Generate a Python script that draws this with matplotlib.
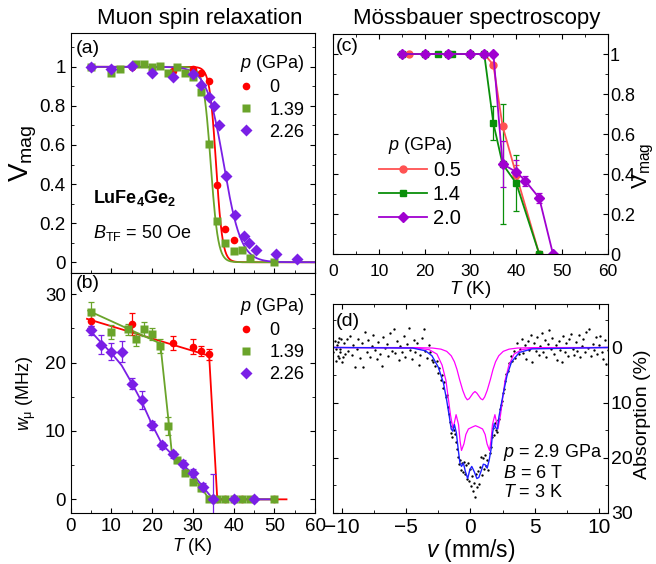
import numpy as np
import matplotlib
matplotlib.use("Agg")
import matplotlib.pyplot as plt
from matplotlib.ticker import MultipleLocator

plt.rcParams['font.family'] = ['Liberation Sans', 'DejaVu Sans']
plt.rcParams['mathtext.fontset'] = 'custom'
plt.rcParams['mathtext.rm'] = 'Liberation Sans'
plt.rcParams['mathtext.it'] = 'Liberation Sans:italic'
plt.rcParams['mathtext.bf'] = 'Liberation Sans:bold'
plt.rcParams['font.size'] = 13

# muSR colours
RED = '#ff0000'
GREEN = '#6aa42a'
PURPLE = '#7a1fe6'
# Mossbauer colours
M_RED = '#ff5252'
M_GREEN = '#0a8f0a'
M_PURPLE = '#a000d0'

# ---- (a) muSR magnetic volume fraction ----
p_musr = ['0', '1.39', '2.26']
Ta_0 = [5, 15, 25, 30, 32, 34, 36, 38, 40]
Va_0 = [1.0, 1.0, 0.98, 0.99, 0.97, 0.925, 0.395, 0.17, 0.115]
Ta_1 = [5, 10, 12, 16, 18, 20, 22, 24, 26, 28, 30, 32, 34, 36, 38, 40, 42, 44, 50]
Va_1 = [1.0, 0.97, 0.99, 1.015, 1.015, 1.0, 1.005, 0.97, 1.0, 0.97, 0.95, 0.87,
        0.605, 0.21, 0.10, 0.055, 0.063, 0.02, 0.0]
Ta_2 = [5, 10, 15, 20, 25, 30, 32, 34, 35.3, 36.3, 38.2, 40.3, 42.5, 43.9, 45.6, 50.5, 55.5]
Va_2 = [1.0, 0.99, 1.005, 0.97, 0.95, 0.963, 0.905, 0.845, 0.80, 0.70, 0.442, 0.242,
        0.136, 0.097, 0.063, 0.04, 0.016]
# fitted transition temperature and width (K)
Tc_fit = [35.7, 34.4, 37.6]
dT_fit = [0.8, 0.9, 2.1]

# ---- (b) muSR internal field width ----
Tb_0 = [5, 15, 25, 30, 32, 34, 36, 38, 40, 42, 45, 50]
wb_0 = [26.1, 25.7, 22.9, 22.3, 21.7, 21.2, 0, 0, 0, 0, 0, 0]
eb_0 = [0.8, 1.6, 1.0, 1.1, 0.8, 0.8, 0.3, 0.3, 0.3, 0.3, 0.3, 0.3]
Tb_1 = [5, 10, 14, 16, 18, 20, 22, 24, 26, 28, 30, 32, 34, 36, 38, 40, 42, 44, 50]
wb_1 = [27.4, 24.5, 24.9, 23.4, 24.9, 24.2, 22.4, 10.7, 5.7, 3.9, 2.6, 1.6,
        0, 0, 0, 0, 0, 0, 0]
eb_1 = [1.4, 1.0, 0.8, 1.0, 1.0, 0.9, 1.0, 1.3, 0.4, 0.4, 0.4, 0.4,
        0.3, 0.3, 0.3, 0.3, 0.3, 0.3, 0.3]
Tb_2 = [5, 7.5, 10, 12.5, 15, 17.5, 20, 22.5, 25, 27.5, 30, 32.5, 35, 40, 45]
wb_2 = [24.7, 22.6, 21.6, 21.6, 16.9, 14.5, 10.8, 7.9, 6.6, 5.2, 3.8, 1.75, 0, 0, 0]
eb_2 = [0.7, 1.4, 1.2, 1.5, 0.8, 1.3, 0.7, 0.5, 0.5, 0.5, 0.6, 0.6, 3.7, 0.3, 0.3]
# guide-to-the-eye lines
Tl_0 = [4, 34, 36, 53]
wl_0 = [26.4, 21.0, 0, 0]
Tl_1 = [4.3, 22.0, 24.0, 24.8, 26, 28, 30, 32, 34, 50]
wl_1 = [27.6, 22.8, 11.6, 7.0, 5.9, 4.5, 3.2, 1.8, 0.0, 0.0]
Tl_2 = [4.3, 7.5, 10, 12.5, 15, 17.5, 20, 22.5, 25, 27.5, 30, 32.5, 35, 50]
wl_2 = [25.0, 22.9, 21.4, 19.6, 17.0, 14.2, 10.9, 8.0, 6.5, 5.1, 3.7, 1.8, 0.0, 0.0]

# ---- (c) Mossbauer magnetic volume fraction ----
p_moss = ['0.5', '1.4', '2.0']
Tc_05 = [16.5, 20, 25, 30, 33, 35, 37, 40, 45]
Vc_05 = [1, 1, 1, 1, 1, 0.945, 0.64, 0.395, 0]
ec_05 = [0, 0, 0, 0, 0, 0, 0, 0.05, 0]
Tc_14 = [15, 20, 23, 25, 26, 30, 33, 35, 37, 40, 45]
Vc_14 = [1, 1, 1, 1, 1, 1, 1, 0.653, 0.45, 0.353, 0]
ec_14 = [0, 0, 0, 0, 0, 0, 0, 0.085, 0.30, 0.14, 0]
Tc_20 = [15, 20, 25, 30, 33, 35, 37, 40, 42, 45, 48]
Vc_20 = [1, 1, 1, 1, 1, 1, 0.45, 0.41, 0.365, 0.28, 0]
ec_20 = [0, 0, 0, 0, 0, 0, 0.117, 0.06, 0.025, 0.025, 0]

# ---- (d) Mossbauer spectrum, p = 2.9 GPa, B = 6 T, T = 3 K ----
spec_v = [-10.68, -10.55, -10.5, -10.45, -10.38, -10.33, -10.3, -10.26, -10.22, -10.18,
          -10.12, -10.05, -10.0, -9.93, -9.88, -9.75, -9.62, -9.5, -9.37, -9.24,
          -9.11, -8.98, -8.85, -8.72, -8.59, -8.46, -8.33, -8.2, -8.07, -7.94,
          -7.81, -7.68, -7.55, -7.42, -7.29, -7.16, -7.03, -6.9, -6.77, -6.64,
          -6.51, -6.38, -6.25, -6.12, -5.99, -5.86, -5.73, -5.6, -5.47, -5.34,
          -5.21, -5.08, -4.95, -4.82, -4.69, -4.56, -4.43, -4.3, -4.17, -4.04,
          -3.91, -3.78, -3.65, -3.52, -3.39, -3.26, -3.13, -3.0, -2.88, -2.76,
          -2.64, -2.52, -2.42, -2.32, -2.22, -2.12, -2.03, -1.94, -1.86, -1.78,
          -1.7, -1.62, -1.55, -1.47, -1.4, -1.32, -1.24, -1.16, -1.08, -1.0,
          -0.92, -0.84, -0.76, -0.68, -0.6, -0.52, -0.44, -0.36, -0.28, -0.2,
          -0.12, -0.04, 0.04, 0.12, 0.2, 0.28, 0.36, 0.44, 0.52, 0.6,
          0.68, 0.76, 0.84, 0.92, 1.0, 1.08, 1.16, 1.24, 1.32, 1.4,
          1.48, 1.56, 1.64, 1.72, 1.8, 1.88, 1.96, 2.04, 2.12, 2.2,
          2.28, 2.36, 2.44, 2.52, 2.6, 2.7, 2.8, 2.9, 3.02, 3.14,
          3.26, 3.38, 3.5, 3.62, 3.74, 3.86, 3.98, 4.1, 4.22, 4.34,
          4.46, 4.58, 4.7, 4.82, 4.94, 5.06, 5.18, 5.3, 5.42, 5.54,
          5.66, 5.78, 5.9, 6.02, 6.14, 6.26, 6.38, 6.5, 6.62, 6.74,
          6.86, 6.98, 7.1, 7.22, 7.34, 7.46, 7.58, 7.7, 7.82, 7.94,
          8.06, 8.18, 8.3, 8.42, 8.54, 8.66, 8.78, 8.9, 9.02, 9.14,
          9.26, 9.38, 9.5, 9.62, 9.74, 9.86, 9.98, 10.1, 10.22, 10.34,
          10.46, 10.58, 10.68]
spec_abs = [0.8, -1.2, 0.2, 2.4, -0.5, -1.0, 1.6, 1.9, -1.8, 0.9,
            0.3, -1.6, 2.7, 1.8, -0.9, 1.1, -1.5, 0.6, -2.1, 1.4,
            -0.4, 3.6, 0.2, -1.6, 1.9, -0.8, 3.5, -2.9, 0.9, -1.3,
            1.7, -0.2, -2.2, 0.5, 2.1, -1.0, 1.2, 3.4, -1.9, 0.1,
            -0.7, 1.5, -2.6, 0.7, -3.4, 1.0, -1.1, 2.3, -0.3, 0.9,
            -2.0, 1.8, -0.6, -3.6, 0.4, 2.0, -1.4, 0.8, -0.9, 3.2,
            1.3, -1.7, -3.3, 0.6, 1.9, -0.4, 0.9, 2.2, 2.6, 3.4,
            2.4, 4.6, 3.8, 5.9, 5.0, 7.4, 6.3, 9.0, 8.6, 10.8,
            12.0, 13.6, 15.6, 14.2, 16.3, 14.9, 15.8, 17.2, 18.4, 19.9,
            21.2, 20.4, 22.3, 21.0, 22.6, 20.8, 22.9, 21.4, 23.9, 20.9,
            24.3, 22.1, 25.1, 23.4, 26.0, 24.6, 27.2, 23.0, 25.4, 22.4,
            24.8, 21.7, 19.8, 23.1, 20.1, 22.0, 19.5, 21.6, 20.4, 22.3,
            19.2, 18.1, 16.2, 14.6, 15.9, 13.8, 14.9, 15.3, 13.2, 12.9,
            11.1, 10.5, 9.8, 8.3, 7.6, 6.1, 4.9, 4.2, 2.8, 1.6,
            2.5, 0.7, 1.9, -0.8, 1.2, 0.3, -1.6, 1.0, -0.5, 2.0,
            -1.2, 0.4, -2.2, 2.6, -0.9, 0.7, -1.9, 1.4, -0.2, -2.7,
            0.9, -1.3, 1.7, -0.6, -3.1, 0.2, -1.8, 1.1, -0.4, 2.2,
            -1.1, 0.5, 2.6, -2.0, 0.8, -0.9, 1.6, -1.5, -2.4, 0.3,
            1.3, -1.0, 0.6, -2.3, 1.8, -0.3, -1.6, 0.9, -2.8, 0.1,
            -3.4, 1.5, -0.7, 0.4, -1.9, 1.1, -0.5, -2.1, 0.8, 2.1,
            -1.3, 3.0, 0.5]
# total fit
fit_v = [-10.7, -4.5, -3.5, -3.0, -2.5, -2.1, -1.85, -1.65, -1.5, -1.38, -1.25, -1.1,
         -0.95, -0.82, -0.7, -0.55, -0.4, -0.22, -0.05, 0.1, 0.3, 0.5, 0.65, 0.85,
         1.0, 1.15, 1.3, 1.45, 1.6, 1.72, 1.85, 1.97, 2.1, 2.22, 2.38, 2.6, 2.85,
         3.2, 3.8, 4.8, 10.7]
fit_abs = [0, 0.1, 0.6, 1.5, 3.6, 6.5, 9.6, 12.5, 14.8, 15.2, 14.0, 15.5,
           18.6, 21.0, 21.6, 21.0, 22.5, 23.8, 22.2, 21.6, 22.6, 23.8, 23.6, 22.3,
           21.2, 21.3, 21.9, 20.5, 18.5, 15.5, 13.8, 14.6, 14.8, 12.5, 10.5, 7.8, 5.0,
           2.6, 0.9, 0.25, 0]
# magnetic sub-spectrum
sub1_v = [-10.7, -4.11, -3.21, -2.61, -2.21, -1.91, -1.71, -1.56, -1.46, -1.35, -1.24,
          -1.12, -0.93, -0.81, -0.70, -0.51, -0.36, -0.16, 0.14, 0.39, 0.64, 0.94,
          1.14, 1.29, 1.48, 1.59, 1.71, 1.90, 2.02, 2.13, 2.24, 2.34, 2.49, 2.69,
          2.99, 3.39, 3.99, 4.89, 10.7]
sub1_abs = [0, 0.1, 0.4, 1.2, 3.2, 6.0, 9.5, 12.2, 13.5, 14.8, 13.5,
            12.2, 14.0, 17.0, 18.7, 17.5, 15.8, 14.8, 14.45, 14.2, 14.45, 14.8,
            15.8, 17.5, 18.7, 17.0, 14.0, 12.2, 13.5, 14.8, 13.5, 12.2, 9.5, 6.0,
            3.2, 1.2, 0.4, 0.1, 0]
# broad sub-spectrum
sub2_v = [-10.7, -4.3, -2.95, -2.3, -1.85, -1.5, -1.25, -1.05, -0.85, -0.6, -0.4,
          -0.25, -0.1, 0.05, 0.2, 0.35, 0.5, 0.65, 0.8, 0.95, 1.1, 1.3,
          1.55, 1.75, 1.95, 2.2, 2.55, 3.0, 3.65, 5.0, 10.7]
sub2_abs = [0, 0.02, 0.1, 0.3, 0.7, 1.5, 2.6, 4.0, 5.8, 7.8, 9.0,
            9.5, 9.3, 8.8, 8.3, 8.0, 8.3, 8.8, 9.3, 9.5, 9.0, 7.8,
            5.8, 4.0, 2.6, 1.5, 0.7, 0.3, 0.1, 0.02, 0]

fig = plt.figure(figsize=(6.56, 5.64), dpi=100)
ax_a = fig.add_axes([0.1078, 0.5160, 0.3724, 0.4255])
ax_b = fig.add_axes([0.1078, 0.0904, 0.3724, 0.4255])
ax_c = fig.add_axes([0.5076, 0.5496, 0.4192, 0.3901])
ax_d = fig.add_axes([0.5076, 0.0910, 0.4192, 0.3700])

fig.text(0.305, 0.968, 'Muon spin relaxation', ha='center', va='center', fontsize=16)
fig.text(0.727, 0.968, 'Mössbauer spectroscopy', ha='center', va='center', fontsize=16)

musr_cols = [RED, GREEN, PURPLE]
musr_mk = ['o', 's', 'D']
musr_ms = [5.5, 5.2, 6.3]
leg_kw = dict(title=r'$p$ (GPa)', loc='upper right', frameon=False, handletextpad=0.7,
              borderaxespad=0.2, labelspacing=0.28, handlelength=1.2, fontsize=13,
              title_fontsize=13, alignment='right')

# panel (a)
T_line = np.linspace(4.3, 60, 400)
for Tc, dT, col in zip(Tc_fit, dT_fit, musr_cols):
    ax_a.plot(T_line, 1.0 / (1.0 + np.exp((T_line - Tc) / dT)), color=col, lw=1.3)
for T, V, col, mk, ms, lab in zip([Ta_0, Ta_1, Ta_2], [Va_0, Va_1, Va_2],
                                  musr_cols, musr_mk, musr_ms, p_musr):
    ax_a.plot(T, V, mk, color=col, ms=ms, mec='none', label=lab)
ax_a.set_xlim(0, 60)
ax_a.set_ylim(-0.055, 1.173)
ax_a.xaxis.set_major_locator(MultipleLocator(10))
ax_a.xaxis.set_minor_locator(MultipleLocator(5))
ax_a.set_yticks([0, 0.2, 0.4, 0.6, 0.8, 1.0], ['0', '0.2', '0.4', '0.6', '0.8', '1'])
ax_a.yaxis.set_minor_locator(MultipleLocator(0.1))
ax_a.tick_params(which='both', direction='in', right=True, top=False, labelbottom=False,
                 labelsize=13.5)
ax_a.set_ylabel(r'$\mathrm{V_{mag}}$', fontsize=20)
ax_a.yaxis.set_label_coords(-0.13, 0.5)
ax_a.text(0.02, 0.97, '(a)', transform=ax_a.transAxes, ha='left', va='top', fontsize=14)
ax_a.text(0.09, 0.29, r'$\mathbf{LuFe_4Ge_2}$', transform=ax_a.transAxes, fontsize=13)
ax_a.text(0.09, 0.145, r'$B_\mathrm{TF}$ = 50 Oe', transform=ax_a.transAxes, fontsize=13)
ax_a.legend(bbox_to_anchor=(1.0, 0.96), **leg_kw)

# panel (b)
for T, w, col in zip([Tl_0, Tl_1, Tl_2], [wl_0, wl_1, wl_2], musr_cols):
    ax_b.plot(T, w, color=col, lw=1.3)
for T, w, e, col, mk, ms, lab in zip([Tb_0, Tb_1, Tb_2], [wb_0, wb_1, wb_2],
                                     [eb_0, eb_1, eb_2], musr_cols, musr_mk,
                                     musr_ms, p_musr):
    ax_b.errorbar(T, w, yerr=e, fmt=mk, color=col, ms=ms, mec='none', capsize=2.2,
                  elinewidth=0.9, capthick=0.9, label=lab)
ax_b.set_xlim(0, 60)
ax_b.set_ylim(-2, 33.1)
ax_b.xaxis.set_major_locator(MultipleLocator(10))
ax_b.xaxis.set_minor_locator(MultipleLocator(5))
ax_b.yaxis.set_major_locator(MultipleLocator(10))
ax_b.yaxis.set_minor_locator(MultipleLocator(5))
ax_b.tick_params(which='both', direction='in', right=True, top=False, labelsize=13.5)
ax_b.set_xlabel(r'$T$ (K)', fontsize=13, labelpad=1)
ax_b.set_ylabel(r'$w_\mathrm{\mu}$ (MHz)', fontsize=13)
ax_b.yaxis.set_label_coords(-0.135, 0.5)
ax_b.text(0.02, 0.99, '(b)', transform=ax_b.transAxes, ha='left', va='top', fontsize=14)
hb, lb = ax_b.get_legend_handles_labels()
ax_b.legend([h[0] for h in hb], lb, bbox_to_anchor=(1.0, 0.95), **leg_kw)

# panel (c)
moss_cols = [M_RED, M_GREEN, M_PURPLE]
moss_mk = ['o', 's', 'D']
moss_ms = [5, 4.6, 5.6]
for T, V, e, col, mk, ms, lab in zip([Tc_05, Tc_14, Tc_20], [Vc_05, Vc_14, Vc_20],
                                     [ec_05, ec_14, ec_20], moss_cols, moss_mk,
                                     moss_ms, p_moss):
    ax_c.errorbar(T, V, yerr=e, fmt='-' + mk, color=col, ms=ms, mec=col, lw=1.3,
                  capsize=2.2, elinewidth=0.9, capthick=0.9, label=lab)
ax_c.set_xlim(0, 60)
ax_c.set_ylim(0, 1.1)
ax_c.xaxis.set_major_locator(MultipleLocator(10))
ax_c.xaxis.set_minor_locator(MultipleLocator(5))
ax_c.set_yticks([0, 0.2, 0.4, 0.6, 0.8, 1.0], ['0', '0.2', '0.4', '0.6', '0.8', '1'])
ax_c.yaxis.set_minor_locator(MultipleLocator(0.1))
ax_c.tick_params(which='both', direction='in', left=True, right=True, top=True,
                 labelleft=False, labelright=True)
ax_c.tick_params(axis='x', labelsize=12.5, pad=7)
ax_c.tick_params(axis='y', labelsize=13, pad=1.5)
ax_c.yaxis.set_label_position('right')
ax_c.set_ylabel(r'$\mathrm{V_{mag}}$', fontsize=16)
ax_c.yaxis.set_label_coords(1.085, 0.40)
ax_c.set_xlabel(r'$T$ (K)', fontsize=13.5, labelpad=0)
ax_c.text(0.01, 0.98, '(c)', transform=ax_c.transAxes, ha='left', va='top', fontsize=14)
hc, lc = ax_c.get_legend_handles_labels()
ax_c.legend([h[0] for h in hc], lc, title=r'$p$ (GPa)', loc='center left',
            bbox_to_anchor=(0.1, 0.33), frameon=False, handletextpad=0.3,
            labelspacing=0.25, handlelength=2.4, fontsize=14.5, title_fontsize=13)

# panel (d)
ax_d.plot(spec_v, spec_abs, 'o', color='black', ms=1.7, mec='none')
ax_d.plot(sub1_v, sub1_abs, color='#ff00ff', lw=0.9)
ax_d.plot(sub2_v, sub2_abs, color='#ff00ff', lw=0.9)
ax_d.plot(fit_v, fit_abs, color='#1f1fff', lw=1.0)
ax_d.set_xlim(-10.7, 10.7)
ax_d.set_ylim(30, -7.9)
ax_d.xaxis.set_major_locator(MultipleLocator(5))
ax_d.xaxis.set_minor_locator(MultipleLocator(2.5))
ax_d.yaxis.set_major_locator(MultipleLocator(10))
ax_d.yaxis.set_minor_locator(MultipleLocator(5))
ax_d.tick_params(which='both', direction='in', left=True, right=True, top=True,
                 labelleft=False, labelright=True, labelsize=15)
ax_d.tick_params(axis='y', labelsize=14, pad=2)
ax_d.yaxis.set_label_position('right')
ax_d.set_ylabel('Absorption (%)', fontsize=14)
ax_d.yaxis.set_label_coords(1.0945, 0.47)
ax_d.set_xlabel(r'$v$ (mm/s)', fontsize=16.5, labelpad=0)
ax_d.text(0.01, 0.955, '(d)', transform=ax_d.transAxes, ha='left', va='top', fontsize=14)
ax_d.text(0.62, 0.286, r'$p$ = 2.9 GPa', transform=ax_d.transAxes, va='center', fontsize=13)
ax_d.text(0.62, 0.190, r'$B$ = 6 T', transform=ax_d.transAxes, va='center', fontsize=13)
ax_d.text(0.62, 0.099, r'$T$ = 3 K', transform=ax_d.transAxes, va='center', fontsize=13)

fig.savefig('out.png', dpi=100)
